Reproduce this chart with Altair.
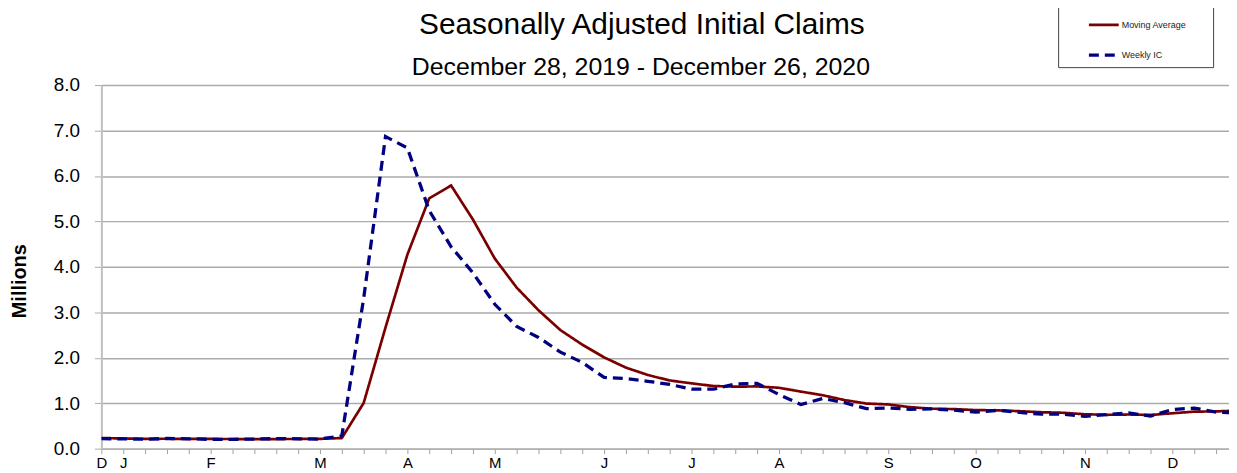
import json
import altair as alt
import pandas as pd

# Week-ending dates (Saturday), Dec 28 2019 .. Dec 26 2020
week_ending = pd.date_range("2019-12-28", "2020-12-26", freq="7D").strftime("%Y-%m-%d").tolist()

# Month letters shown under the weekly ticks
tick_labels = ["D", "J", "", "", "", "F", "", "", "", "", "M", "", "", "", "A", "", "", "", "M",
               "", "", "", "", "J", "", "", "", "J", "", "", "", "A", "", "", "", "", "S",
               "", "", "", "O", "", "", "", "", "N", "", "", "", "D", "", "", ""]

# Seasonally adjusted initial claims, millions
weekly_ic = [0.220, 0.214, 0.207, 0.223, 0.217, 0.204, 0.205, 0.211, 0.220, 0.217, 0.211, 0.282,
             3.307, 6.867, 6.615, 5.237, 4.442, 3.867, 3.176, 2.687, 2.446, 2.123, 1.897, 1.566,
             1.540, 1.482, 1.413, 1.310, 1.307, 1.422, 1.435, 1.191, 0.971, 1.104, 1.011, 0.881,
             0.893, 0.866, 0.873, 0.849, 0.804, 0.842, 0.799, 0.758, 0.757, 0.711, 0.748, 0.787,
             0.716, 0.862, 0.892, 0.806, 0.787]

moving_avg = [0.233, 0.224, 0.216, 0.217, 0.215, 0.213, 0.212, 0.209, 0.210, 0.213, 0.215, 0.233,
              1.004, 2.667, 4.268, 5.507, 5.790, 5.040, 4.181, 3.543, 3.044, 2.608, 2.288, 2.008,
              1.782, 1.621, 1.500, 1.436, 1.378, 1.363, 1.369, 1.339, 1.255, 1.175, 1.069, 0.992,
              0.972, 0.913, 0.878, 0.870, 0.848, 0.842, 0.824, 0.801, 0.789, 0.756, 0.744, 0.751,
              0.741, 0.778, 0.814, 0.819, 0.837]

series_names = ["Moving Average", "Weekly IC"]
series_colors = ["#7A0000", "#000080"]

title_text = "Seasonally Adjusted Initial Claims"
subtitle_text = "December 28, 2019 - December 26, 2020"

rows = []
for i, d in enumerate(week_ending):
    rows.append({"week": i, "date": d, "series": series_names[0], "value": moving_avg[i]})
    rows.append({"week": i, "date": d, "series": series_names[1], "value": weekly_ic[i]})
df = pd.DataFrame(rows)

n_weeks = len(week_ending)
plot_w = 1135
plot_h = 366
week_px = 22.0
x_max = plot_w / week_px  # last week falls just past the right edge, as in the reference
label_expr = json.dumps(tick_labels) + "[datum.value]"

legend = alt.Legend(
    title=" ", titleOrient="right", titlePadding=22, titleFontSize=9,
    orient="none", legendX=963, legendY=-82,
    direction="vertical", symbolType="stroke", symbolSize=900,
    symbolStrokeWidth=2.6, labelFontSize=9, labelFont="Liberation Sans",
    labelColor="#222222", padding=5, rowPadding=8, symbolOffset=24,
    labelOffset=1, strokeColor="#444444", fillColor="white",
)

lines = alt.Chart(df).mark_line(clip=True).encode(
    x=alt.X("week:Q",
            scale=alt.Scale(domain=[0, x_max], nice=False, zero=False),
            axis=alt.Axis(title=None, values=[i for i in range(n_weeks) if i <= x_max],
                          labelExpr=label_expr,
                          grid=False, tickSize=5, tickColor="#A0A0A0", domainColor="#B0B0B0",
                          domainWidth=1.5, labelFontSize=15, labelFont="Liberation Sans",
                          labelColor="#000000", labelPadding=2, labelFlush=False,
                          labelOverlap=False)),
    y=alt.Y("value:Q",
            scale=alt.Scale(domain=[0, 8], nice=False),
            axis=alt.Axis(title="Millions", values=[0, 1, 2, 3, 4, 5, 6, 7, 8], format=".1f",
                          grid=True, gridColor="#ABABAB", gridWidth=1.5, tickSize=7,
                          tickColor="#ABABAB", domainColor="#C0C0C0", domainWidth=2,
                          labelFontSize=19, labelFont="Liberation Sans", labelColor="#000000",
                          labelPadding=15, titleFontSize=20, titleFont="Liberation Sans",
                          titleFontWeight="bold", titleColor="#000000", titlePadding=24,
                          titleY=197)),
    color=alt.Color("series:N", scale=alt.Scale(domain=series_names, range=series_colors),
                    legend=legend),
    strokeDash=alt.StrokeDash("series:N",
                              scale=alt.Scale(domain=series_names, range=[[1, 0], [10, 6]]),
                              legend=legend),
    strokeWidth=alt.StrokeWidth("series:N",
                                scale=alt.Scale(domain=series_names, range=[2.7, 3.3]),
                                legend=None),
    order=alt.Order("week:Q"),
)

title_mark = alt.Chart(pd.DataFrame({"t": [title_text]})).mark_text(
    font="Liberation Sans", fontSize=30, color="#000000", align="center", baseline="alphabetic"
).encode(text="t:N", x=alt.value(544), y=alt.value(-51))

subtitle_mark = alt.Chart(pd.DataFrame({"t": [subtitle_text]})).mark_text(
    font="Liberation Sans", fontSize=25, color="#000000", align="center", baseline="alphabetic"
).encode(text="t:N", x=alt.value(543), y=alt.value(-10))

chart = alt.layer(lines, title_mark, subtitle_mark).properties(
    width=plot_w, height=plot_h,
    autosize=alt.AutoSizeParams(type="none"),
    padding={"left": 94, "top": 76, "right": 0, "bottom": 22},
).configure_view(stroke=None).configure(background="white")

chart.save("out.html", embed_options={"renderer": "svg", "actions": False})
